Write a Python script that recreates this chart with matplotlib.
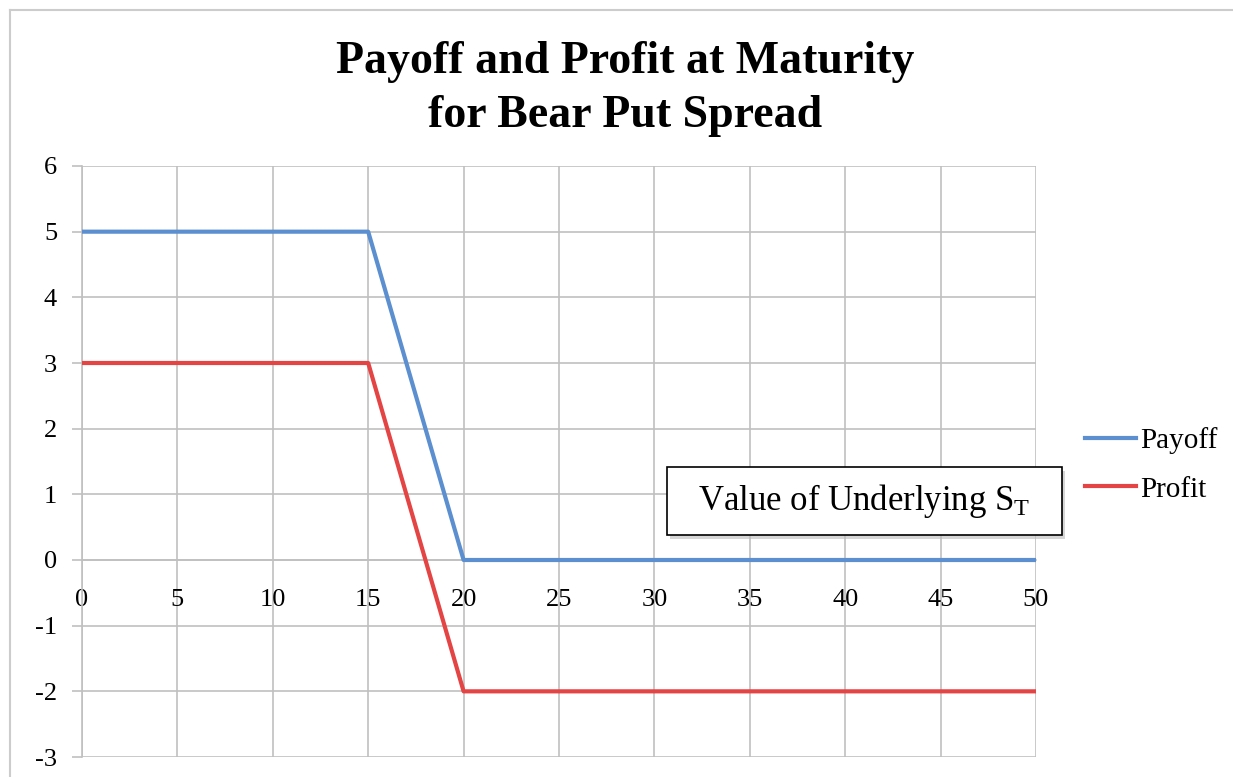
import matplotlib.pyplot as plt
from matplotlib.patches import Rectangle
from matplotlib.lines import Line2D

# stock price at maturity and the two series
s_t = [0, 15, 20, 50]
payoff = [5, 5, 0, 0]
profit = [3, 3, -2, -2]
x_ticks = [0, 5, 10, 15, 20, 25, 30, 35, 40, 45, 50]
y_ticks = [-3, -2, -1, 0, 1, 2, 3, 4, 5, 6]

plt.rcParams['font.family'] = ['Liberation Serif', 'DejaVu Serif']
plt.rcParams['mathtext.default'] = 'regular'
plt.rcParams['axes.unicode_minus'] = False

fig = plt.figure(figsize=(12.33, 7.77), dpi=100)
ax = fig.add_axes([82 / 1233, 1 - 757 / 777, 954 / 1233, 591 / 777])

grid_c = '#c0c0c0'
ax.plot(s_t, payoff, color='#5b8fd0', lw=3, label='Payoff', zorder=3)
ax.plot(s_t, profit, color='#e44444', lw=3, label='Profit', zorder=3)

ax.set_xlim(0, 50)
ax.set_ylim(-3, 6)
ax.set_xticks(x_ticks)
ax.set_yticks(y_ticks)
ax.grid(True, color=grid_c, lw=1.2)
ax.set_axisbelow(True)

for side in ['top', 'right']:
    ax.spines[side].set_visible(False)
ax.spines['left'].set_color(grid_c)
ax.spines['left'].set_linewidth(1.2)
ax.spines['bottom'].set_position(('data', 0))
ax.spines['bottom'].set_color(grid_c)
ax.spines['bottom'].set_linewidth(1.2)
ax.tick_params(axis='y', length=7, width=1.2, color=grid_c, pad=11, labelsize=19)
ax.tick_params(axis='x', length=0, pad=21, labelsize=19)

fig.text(0.507, 0.920, 'Payoff and Profit at Maturity', ha='center', va='center',
         fontsize=33, fontweight='bold')
fig.text(0.507, 0.851, 'for Bear Put Spread', ha='center', va='center',
         fontsize=33, fontweight='bold')

# x axis title box with drop shadow
bx, by, bw, bh = 667 / 1233, 1 - 535 / 777, 395 / 1233, 68 / 777
fig.patches.append(Rectangle((bx + 3 / 1233, by - 4 / 777), bw, bh, transform=fig.transFigure,
                             facecolor='#bbbbbb', edgecolor='none', alpha=0.6, zorder=4))
fig.patches.append(Rectangle((bx, by), bw, bh, transform=fig.transFigure,
                             facecolor='white', edgecolor='black', lw=1.2, zorder=5))
fig.text(bx + bw / 2, by + bh / 2, 'Value of Underlying $S_T$', ha='center', va='center',
         fontsize=25, zorder=6)

handles = [Line2D([], [], color='#5b8fd0', lw=3), Line2D([], [], color='#e44444', lw=3)]
fig.legend(handles, ['Payoff', 'Profit'], loc='center left',
           bbox_to_anchor=(1085 / 1233, 1 - 465 / 777), frameon=False, fontsize=21,
           handlelength=1.75, handletextpad=0.15, labelspacing=0.75,
           borderaxespad=0, borderpad=0)

# outer chart border
fig.add_artist(Line2D([10 / 1233, 10 / 1233], [0, 1 - 10 / 777], color='#cccccc', lw=1.5,
                      transform=fig.transFigure))
fig.add_artist(Line2D([10 / 1233, 1], [1 - 10 / 777, 1 - 10 / 777], color='#cccccc', lw=1.5,
                      transform=fig.transFigure))

fig.savefig('out.png', dpi=100)
